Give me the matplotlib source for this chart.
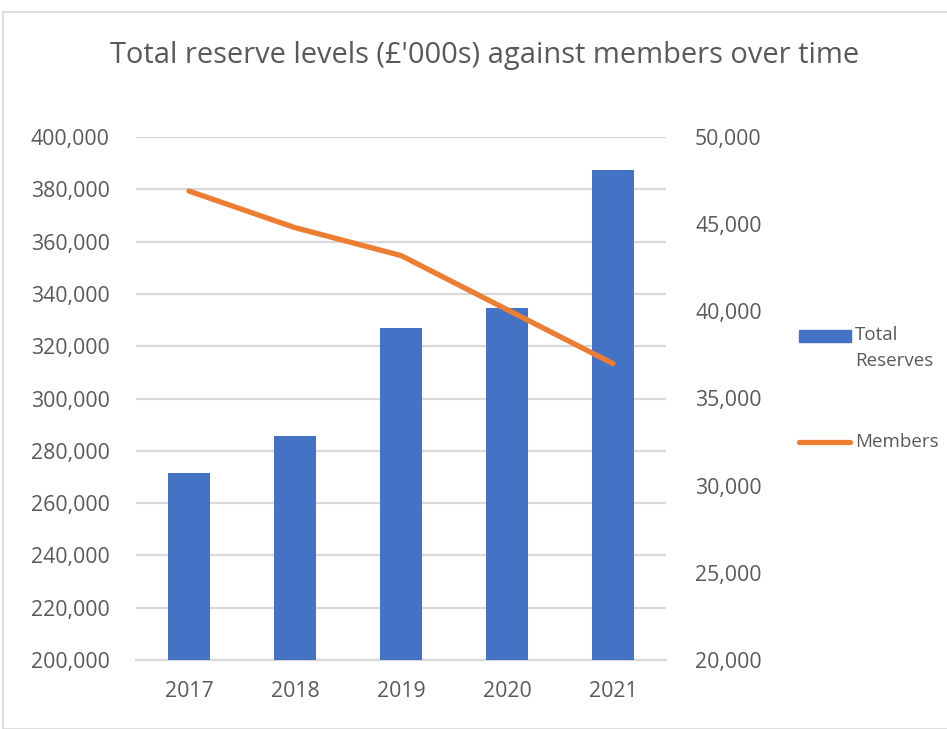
import matplotlib
matplotlib.use("Agg")
import matplotlib.pyplot as plt
from matplotlib.patches import Rectangle
from matplotlib.lines import Line2D
from matplotlib.ticker import FuncFormatter

years = ["2017", "2018", "2019", "2020", "2021"]
total_reserves = [271500, 285600, 326800, 334700, 387200]
members = [46900, 44800, 43200, 40100, 37000]

BLUE = "#4472C4"
ORANGE = "#ED7D31"
GRID = "#D9D9D9"
TEXT = "#595959"
FONT = "Open Sans"

W, H = 947, 729
fig = plt.figure(figsize=(W / 100, H / 100), dpi=100)
fig.patch.set_facecolor("white")

# chart frame
fig.patches.append(Rectangle((3 / W, 0), 1.0, (H - 12) / H, transform=fig.transFigure,
                             fill=False, edgecolor="#D9D9D9", linewidth=1.2))

left, right, top, bottom = 136, 666, 137, 660
ax = fig.add_axes([left / W, 1 - bottom / H, (right - left) / W, (bottom - top) / H])
ax2 = ax.twinx()

x = list(range(len(years)))
ax.bar(x, total_reserves, width=0.4, color=BLUE, zorder=3)
ax.set_ylim(200000, 400000)
ax.set_yticks(range(200000, 400001, 20000))
ax.set_xlim(-0.5, len(years) - 0.5)
ax.set_xticks(x)
ax.set_xticklabels(years)
ax.yaxis.grid(True, color=GRID, linewidth=1.6, zorder=0)
ax.set_axisbelow(True)

ax2.plot(x, members, color=ORANGE, linewidth=3.8, solid_capstyle="round", zorder=4)
ax2.set_ylim(20000, 50000)
ax2.set_yticks(range(20000, 50001, 5000))

fmt = FuncFormatter(lambda v, p: f"{int(v):,}")
for a in (ax, ax2):
    a.yaxis.set_major_formatter(fmt)
    for s in a.spines.values():
        s.set_visible(False)
    a.tick_params(length=0, labelsize=15.3, labelcolor=TEXT)
    for lbl in a.get_xticklabels() + a.get_yticklabels():
        lbl.set_fontfamily(FONT)
ax.spines["bottom"].set_visible(True)
ax.spines["bottom"].set_color(GRID)
ax.spines["bottom"].set_linewidth(1.6)
ax.tick_params(axis="y", pad=19)
ax.tick_params(axis="x", pad=15)
ax2.tick_params(axis="y", pad=21)

fig.text(485 / W, 1 - 56 / H, "Total reserve levels (£'000s) against members over time",
         ha="center", va="center", fontsize=20.9, color=TEXT, family=FONT)

# legend entries
fig.patches.append(Rectangle((799 / W, 1 - 342 / H), 52 / W, 12 / H,
                             transform=fig.transFigure, color=BLUE))
fig.lines.append(Line2D([799 / W, 850 / W], [1 - 442 / H, 1 - 442 / H],
                        transform=fig.transFigure, color=ORANGE, linewidth=3.8,
                        solid_capstyle="round"))
fig.text(855 / W, 1 - 335 / H, "Total", ha="left", va="center",
         fontsize=13.5, color=TEXT, family=FONT)
fig.text(855 / W, 1 - 361 / H, "Reserves", ha="left", va="center",
         fontsize=13.5, color=TEXT, family=FONT)
fig.text(855 / W, 1 - 442 / H, "Members", ha="left", va="center",
         fontsize=13.5, color=TEXT, family=FONT)

fig.savefig("out.png", dpi=100, facecolor="white")
